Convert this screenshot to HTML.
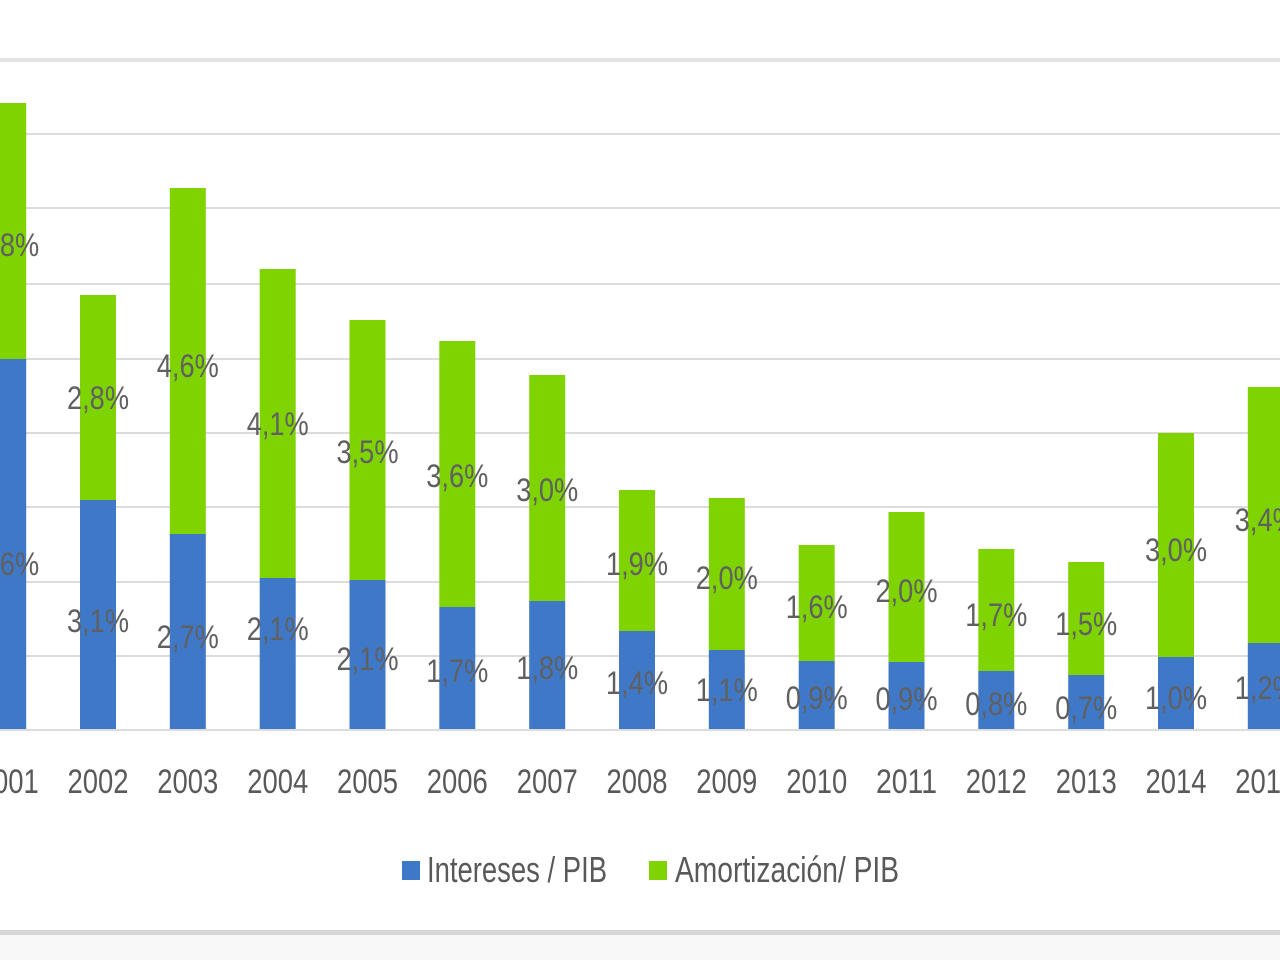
<!DOCTYPE html>
<html>
<head>
<meta charset="utf-8">
<style>
  html,body{margin:0;padding:0;background:#ffffff;}
  svg{display:block;}
  .lbl{font-family:"Liberation Sans",sans-serif;font-size:32px;fill:#606060;}
  .yr{font-family:"Liberation Sans",sans-serif;font-size:34px;fill:#595959;}
  .lg{font-family:"Liberation Sans",sans-serif;font-size:36px;fill:#595959;}
</style>
</head>
<body>
<svg width="1280" height="960" viewBox="0 0 1280 960" xmlns="http://www.w3.org/2000/svg">
  <rect x="0" y="0" width="1280" height="960" fill="#ffffff"/>
  <!-- bottom panel -->
  <rect x="0" y="935" width="1280" height="25" fill="#f8f8f8"/>
  <rect x="0" y="930" width="1280" height="5" fill="#d6d6d6"/>

  <!-- gridlines -->
  <g stroke="#dcdcdc" stroke-width="2">
    <line x1="0" y1="60" x2="1280" y2="60" stroke="#e2e2e2" stroke-width="4"/>
    <line x1="0" y1="134" x2="1280" y2="134"/>
    <line x1="0" y1="208" x2="1280" y2="208"/>
    <line x1="0" y1="284" x2="1280" y2="284"/>
    <line x1="0" y1="359" x2="1280" y2="359"/>
    <line x1="0" y1="433" x2="1280" y2="433"/>
    <line x1="0" y1="507" x2="1280" y2="507"/>
    <line x1="0" y1="582" x2="1280" y2="582"/>
    <line x1="0" y1="656" x2="1280" y2="656"/>
    <line x1="0" y1="730" x2="1280" y2="730"/>
  </g>

  <!-- bars: green (total) then blue -->
  <g fill="#7fd300">
    <rect x="-9.8" y="103" width="36" height="256"/>
    <rect x="80" y="295" width="36" height="205"/>
    <rect x="169.8" y="188" width="36" height="346"/>
    <rect x="259.7" y="269" width="36" height="309"/>
    <rect x="349.5" y="320" width="36" height="260"/>
    <rect x="439.3" y="341" width="36" height="266"/>
    <rect x="529.2" y="375" width="36" height="226"/>
    <rect x="619" y="490" width="36" height="141"/>
    <rect x="708.8" y="498" width="36" height="152"/>
    <rect x="798.7" y="545" width="36" height="116"/>
    <rect x="888.5" y="512" width="36" height="150"/>
    <rect x="978.3" y="549" width="36" height="122"/>
    <rect x="1068.2" y="562" width="36" height="113"/>
    <rect x="1158" y="433" width="36" height="224"/>
    <rect x="1247.8" y="387" width="36" height="256"/>
  </g>
  <g fill="#4078c8">
    <rect x="-9.8" y="359" width="36" height="370"/>
    <rect x="80" y="500" width="36" height="229"/>
    <rect x="169.8" y="534" width="36" height="195"/>
    <rect x="259.7" y="578" width="36" height="151"/>
    <rect x="349.5" y="580" width="36" height="149"/>
    <rect x="439.3" y="607" width="36" height="122"/>
    <rect x="529.2" y="601" width="36" height="128"/>
    <rect x="619" y="631" width="36" height="98"/>
    <rect x="708.8" y="650" width="36" height="79"/>
    <rect x="798.7" y="661" width="36" height="68"/>
    <rect x="888.5" y="662" width="36" height="67"/>
    <rect x="978.3" y="671" width="36" height="58"/>
    <rect x="1068.2" y="675" width="36" height="54"/>
    <rect x="1158" y="657" width="36" height="72"/>
    <rect x="1247.8" y="643" width="36" height="86"/>
  </g>

  <!-- value labels -->
  <g class="lbl" text-anchor="middle">
    <text x="8.2" y="256" textLength="62" lengthAdjust="spacingAndGlyphs">4,8%</text>
    <text x="8.2" y="575" textLength="62" lengthAdjust="spacingAndGlyphs">3,6%</text>
    <text x="98" y="409" textLength="62" lengthAdjust="spacingAndGlyphs">2,8%</text>
    <text x="98" y="632" textLength="62" lengthAdjust="spacingAndGlyphs">3,1%</text>
    <text x="187.8" y="377" textLength="62" lengthAdjust="spacingAndGlyphs">4,6%</text>
    <text x="187.8" y="648" textLength="62" lengthAdjust="spacingAndGlyphs">2,7%</text>
    <text x="277.7" y="435" textLength="62" lengthAdjust="spacingAndGlyphs">4,1%</text>
    <text x="277.7" y="640" textLength="62" lengthAdjust="spacingAndGlyphs">2,1%</text>
    <text x="367.5" y="463" textLength="62" lengthAdjust="spacingAndGlyphs">3,5%</text>
    <text x="367.5" y="670" textLength="62" lengthAdjust="spacingAndGlyphs">2,1%</text>
    <text x="457.3" y="487" textLength="62" lengthAdjust="spacingAndGlyphs">3,6%</text>
    <text x="457.3" y="682" textLength="62" lengthAdjust="spacingAndGlyphs">1,7%</text>
    <text x="547.2" y="501" textLength="62" lengthAdjust="spacingAndGlyphs">3,0%</text>
    <text x="547.2" y="679" textLength="62" lengthAdjust="spacingAndGlyphs">1,8%</text>
    <text x="637" y="575" textLength="62" lengthAdjust="spacingAndGlyphs">1,9%</text>
    <text x="637" y="694" textLength="62" lengthAdjust="spacingAndGlyphs">1,4%</text>
    <text x="726.8" y="589" textLength="62" lengthAdjust="spacingAndGlyphs">2,0%</text>
    <text x="726.8" y="701" textLength="62" lengthAdjust="spacingAndGlyphs">1,1%</text>
    <text x="816.7" y="618" textLength="62" lengthAdjust="spacingAndGlyphs">1,6%</text>
    <text x="816.7" y="709" textLength="62" lengthAdjust="spacingAndGlyphs">0,9%</text>
    <text x="906.5" y="602" textLength="62" lengthAdjust="spacingAndGlyphs">2,0%</text>
    <text x="906.5" y="710" textLength="62" lengthAdjust="spacingAndGlyphs">0,9%</text>
    <text x="996.3" y="626" textLength="62" lengthAdjust="spacingAndGlyphs">1,7%</text>
    <text x="996.3" y="715" textLength="62" lengthAdjust="spacingAndGlyphs">0,8%</text>
    <text x="1086.2" y="635" textLength="62" lengthAdjust="spacingAndGlyphs">1,5%</text>
    <text x="1086.2" y="719" textLength="62" lengthAdjust="spacingAndGlyphs">0,7%</text>
    <text x="1176" y="561" textLength="62" lengthAdjust="spacingAndGlyphs">3,0%</text>
    <text x="1176" y="709" textLength="62" lengthAdjust="spacingAndGlyphs">1,0%</text>
    <text x="1265.8" y="531" textLength="62" lengthAdjust="spacingAndGlyphs">3,4%</text>
    <text x="1265.8" y="699" textLength="62" lengthAdjust="spacingAndGlyphs">1,2%</text>
  </g>

  <!-- year labels -->
  <g class="yr" text-anchor="middle">
    <text x="8.2" y="793" textLength="61" lengthAdjust="spacingAndGlyphs">2001</text>
    <text x="98" y="793" textLength="61" lengthAdjust="spacingAndGlyphs">2002</text>
    <text x="187.8" y="793" textLength="61" lengthAdjust="spacingAndGlyphs">2003</text>
    <text x="277.7" y="793" textLength="61" lengthAdjust="spacingAndGlyphs">2004</text>
    <text x="367.5" y="793" textLength="61" lengthAdjust="spacingAndGlyphs">2005</text>
    <text x="457.3" y="793" textLength="61" lengthAdjust="spacingAndGlyphs">2006</text>
    <text x="547.2" y="793" textLength="61" lengthAdjust="spacingAndGlyphs">2007</text>
    <text x="637" y="793" textLength="61" lengthAdjust="spacingAndGlyphs">2008</text>
    <text x="726.8" y="793" textLength="61" lengthAdjust="spacingAndGlyphs">2009</text>
    <text x="816.7" y="793" textLength="61" lengthAdjust="spacingAndGlyphs">2010</text>
    <text x="906.5" y="793" textLength="61" lengthAdjust="spacingAndGlyphs">2011</text>
    <text x="996.3" y="793" textLength="61" lengthAdjust="spacingAndGlyphs">2012</text>
    <text x="1086.2" y="793" textLength="61" lengthAdjust="spacingAndGlyphs">2013</text>
    <text x="1176" y="793" textLength="61" lengthAdjust="spacingAndGlyphs">2014</text>
    <text x="1265.8" y="793" textLength="61" lengthAdjust="spacingAndGlyphs">2015</text>
  </g>

  <!-- legend -->
  <rect x="402" y="861" width="18" height="19" fill="#4078c8"/>
  <text class="lg" x="427" y="882" textLength="180" lengthAdjust="spacingAndGlyphs">Intereses / PIB</text>
  <rect x="649" y="861" width="18" height="19" fill="#7fd300"/>
  <text class="lg" x="675" y="882" textLength="224" lengthAdjust="spacingAndGlyphs">Amortización/ PIB</text>
</svg>
</body>
</html>
